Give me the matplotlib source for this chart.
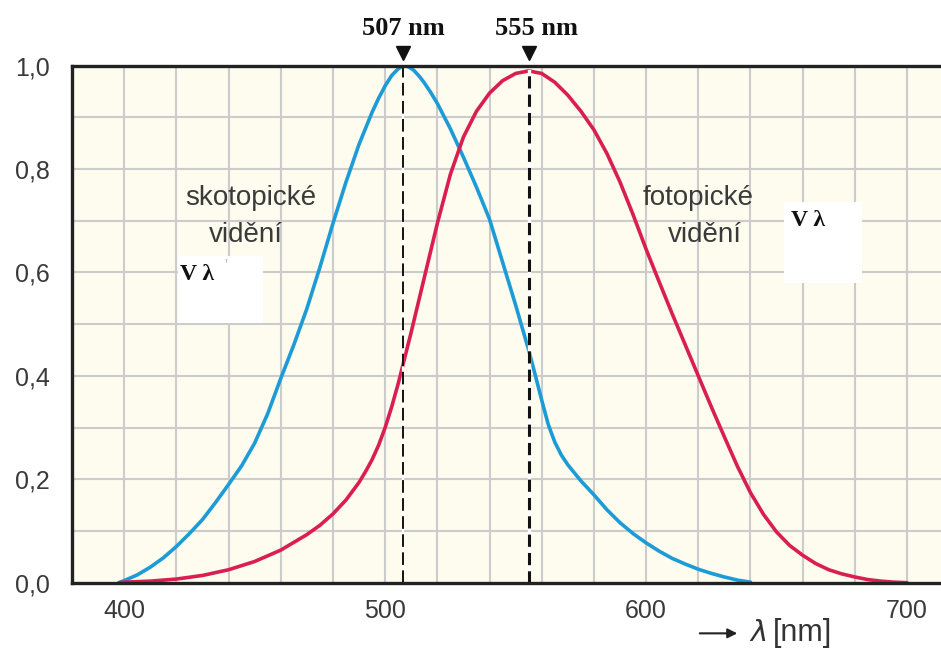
import matplotlib
matplotlib.use("Agg")
import matplotlib.pyplot as plt
from matplotlib.patches import Rectangle

# ---- data ----
scot_wl = [398, 400, 405, 410, 415, 420, 425, 430, 435, 440, 445, 450, 455, 460, 465,
           470, 475, 480, 485, 490, 495, 497.5, 500, 502.5, 505, 507, 509, 511, 513,
           515, 517.5, 520, 525, 530, 535, 540, 545, 550, 555, 557.5, 560, 562.5, 565,
           567.5, 570, 575, 580, 585, 590, 595, 600, 605, 610, 615, 620, 625, 630, 635,
           640]
scot_v = [0.0, 0.004, 0.015, 0.03, 0.048, 0.07, 0.095, 0.122, 0.155, 0.19, 0.226, 0.27,
          0.327, 0.395, 0.46, 0.53, 0.61, 0.695, 0.775, 0.848, 0.91, 0.937, 0.961,
          0.981, 0.994, 1.0, 0.998, 0.991, 0.98, 0.967, 0.948, 0.927, 0.878, 0.823,
          0.765, 0.703, 0.62, 0.537, 0.45, 0.402, 0.353, 0.306, 0.272, 0.247, 0.228,
          0.197, 0.17, 0.141, 0.116, 0.095, 0.077, 0.061, 0.047, 0.036, 0.026, 0.018,
          0.011, 0.005, 0.001]

phot_wl = [398, 400, 410, 420, 430, 440, 450, 460, 470, 475, 480, 485, 490, 492.5, 495,
           497.5, 500, 502.5, 505, 510, 515, 520, 525, 530, 535, 540, 545, 550, 555,
           560, 565, 570, 575, 580, 585, 590, 595, 600, 605, 610, 615, 620, 625, 630,
           635, 640, 645, 650, 655, 660, 665, 670, 675, 680, 685, 690, 695, 700]
phot_v = [0.0, 0.001, 0.003, 0.007, 0.014, 0.025, 0.041, 0.063, 0.093, 0.111, 0.133,
          0.16, 0.194, 0.215, 0.238, 0.266, 0.30, 0.34, 0.385, 0.485, 0.59, 0.695,
          0.79, 0.862, 0.912, 0.947, 0.971, 0.985, 0.99, 0.985, 0.968, 0.943, 0.912,
          0.876, 0.83, 0.775, 0.712, 0.645, 0.582, 0.52, 0.46, 0.40, 0.34, 0.282,
          0.225, 0.174, 0.132, 0.098, 0.072, 0.053, 0.037, 0.025, 0.017, 0.011, 0.006,
          0.003, 0.001, 0.0]

peaks = [507, 555]
peak_labels = ["507 nm", "555 nm"]
xticks = [400, 500, 600, 700]
yticks = [0.0, 0.2, 0.4, 0.6, 0.8, 1.0]
ytick_labels = ["0,0", "0,2", "0,4", "0,6", "0,8", "1,0"]

# ---- figure ----
fig = plt.figure(figsize=(9.41, 6.48), dpi=100)
ax = fig.add_axes([0.0765, 0.1008, 0.9235, 0.7978])
ax.set_facecolor("#fdfcee")
ax.set_xlim(380, 713)
ax.set_ylim(0, 1.0)

# grid
for gx in range(380, 720, 20):
    ax.axvline(gx, color="#cccccc", lw=1.5, zorder=1)
for i in range(1, 10):
    ax.axhline(i / 10, color="#cccccc", lw=1.5, zorder=1)

# white boxes
ax.add_patch(Rectangle((420.7, 0.502), 32.6, 0.130, facecolor="white",
                       edgecolor="none", zorder=2))
ax.add_patch(Rectangle((652.9, 0.580), 29.9, 0.156, facecolor="white",
                       edgecolor="none", zorder=2))

# curves
ax.plot(scot_wl, scot_v, color="#1c9bd7", lw=2.6, zorder=4,
        solid_capstyle="round", solid_joinstyle="round")
ax.plot(phot_wl, phot_v, color="#d91f52", lw=2.6, zorder=4,
        solid_capstyle="round", solid_joinstyle="round")

# dashed peak lines
ax.plot([peaks[0], peaks[0]], [0, 1.0], color="white", lw=1.6, zorder=5)
ax.plot([peaks[0], peaks[0]], [0, 1.0], color="black", lw=1.3, zorder=6,
        linestyle=(0, (7, 3)))
ax.plot([peaks[1], peaks[1]], [0, 0.99], color="white", lw=2.4, zorder=5)
ax.plot([peaks[1], peaks[1]], [0, 0.99], color="#111111", lw=2.2, zorder=6,
        linestyle=(0, (4, 2)))

# markers and labels above
for p, lab, lx in zip(peaks, peak_labels, [507, 558]):
    ax.plot([p], [1.0245], marker="v", color="#111111", markersize=10,
            clip_on=False, zorder=7)
    ax.text(lx, 1.072, lab, ha="center", va="center", fontsize=19,
            fontweight="bold", family="Liberation Serif", color="#111111",
            clip_on=False)

# text labels
txt_kw = dict(ha="center", va="center", fontsize=20, family="Liberation Sans",
              color="#3a3a3a", zorder=8)
ax.text(448.5, 0.745, "skotopické", **txt_kw)
ax.text(446.5, 0.672, "vidění", **txt_kw)
ax.text(620, 0.745, "fotopické", **txt_kw)
ax.text(622.5, 0.672, "vidění", **txt_kw)

serif_kw = dict(ha="left", va="center", fontsize=17, fontweight="bold",
                family="Liberation Serif", color="#111111", zorder=8)
ax.text(421.5, 0.597, "V λ", **serif_kw)
ax.text(438.5, 0.612, "'", ha="left", va="center", fontsize=12,
        family="Liberation Serif", color="#bbbbbb", zorder=8)
ax.text(655.5, 0.70, "V λ", **serif_kw)

# spines
for s in ["left", "top", "bottom"]:
    ax.spines[s].set_linewidth(2.4)
    ax.spines[s].set_color("#222222")
    ax.spines[s].set_zorder(9)
ax.spines["right"].set_visible(False)

ax.set_xticks(xticks)
ax.set_xticklabels([str(t) for t in xticks])
ax.set_yticks(yticks)
ax.set_yticklabels(ytick_labels)
ax.tick_params(axis="both", length=0, labelsize=18, colors="#3a3a3a")
ax.tick_params(axis="y", pad=16)
ax.tick_params(axis="x", pad=12)
for lbl in ax.get_xticklabels() + ax.get_yticklabels():
    lbl.set_family("Liberation Sans")

# x-axis label with arrow
ax.annotate("", xy=(636, -0.098), xytext=(619.5, -0.098), xycoords="data",
            arrowprops=dict(arrowstyle="-|>", color="#222222", lw=1.5,
                            mutation_scale=14),
            annotation_clip=False)
ax.text(639.5, -0.098, r"$\lambda$", ha="left", va="center", fontsize=21,
        color="#333333", clip_on=False, family="DejaVu Serif")
ax.text(648.5, -0.098, "[nm]", ha="left", va="center", fontsize=22,
        family="Liberation Sans", color="#333333", clip_on=False)

fig.savefig("out.png", dpi=100)
